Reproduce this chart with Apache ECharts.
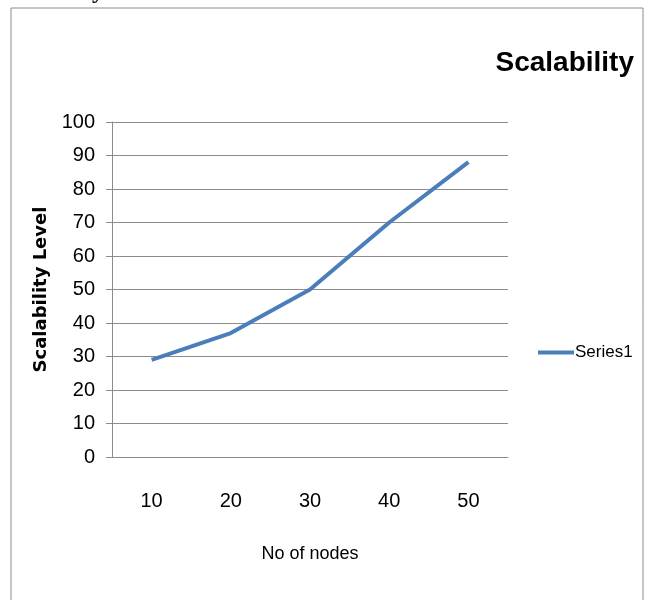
<!DOCTYPE html>
<html>
<head>
<meta charset="utf-8">
<script src="https://cdn.jsdelivr.net/npm/echarts@6/dist/echarts.min.js"></script>
<style>
html,body{margin:0;padding:0;background:#fff;}
#chart{width:650px;height:600px;}
</style>
</head>
<body>
<div id="chart"></div>
<script>
var categories = ['10', '20', '30', '40', '50'];
var series1 = [29, 37, 50, 70, 88];
var yTicks = [0, 10, 20, 30, 40, 50, 60, 70, 80, 90, 100];
var seriesName = 'Series1';
var titleText = 'Scalability';
var xName = 'No of nodes';
var yName = 'Scalability Level';

var narrow = "'Liberation Sans Narrow', 'Arial Narrow', 'Liberation Sans', sans-serif";
var chart = echarts.init(document.getElementById('chart'), null, {renderer: 'canvas'});
chart.setOption({
  backgroundColor: '#ffffff',
  animation: false,
  title: {
    text: titleText,
    right: 11,
    top: 44,
    textStyle: {fontFamily: narrow, fontWeight: 'bold', fontSize: 28, color: '#000'}
  },
  graphic: [
    {type: 'rect', shape: {x: 11, y: 8, width: 632, height: 600}, style: {fill: 'none', stroke: '#8c8c8c', lineWidth: 1}, silent: true},
    {type: 'text', left: -4, top: -20, style: {text: 'Scalability', font: 'bold 24px "Liberation Serif", serif', fill: '#000'}, silent: true}
  ],
  legend: {
    data: [seriesName],
    left: 533,
    top: 339,
    icon: 'rect',
    itemWidth: 36,
    itemHeight: 4,
    itemGap: 4,
    textStyle: {fontFamily: narrow, fontSize: 17, color: '#000', padding: [0, 0, 0, -4]}
  },
  grid: {left: 112, right: 142, top: 122, bottom: 143, containLabel: false},
  xAxis: {
    type: 'category',
    data: categories,
    boundaryGap: true,
    name: xName,
    nameLocation: 'middle',
    nameGap: 88,
    nameTextStyle: {fontFamily: narrow, fontSize: 18, color: '#000'},
    axisLine: {show: true, lineStyle: {color: '#8c8c8c', width: 1}},
    axisTick: {show: false},
    axisLabel: {margin: 34, fontFamily: narrow, fontSize: 20, color: '#000'},
    splitLine: {show: false}
  },
  yAxis: {
    type: 'value',
    min: yTicks[0],
    max: yTicks[yTicks.length - 1],
    interval: 10,
    name: yName,
    nameLocation: 'middle',
    nameGap: 50,
    nameRotate: 90,
    nameTextStyle: {fontFamily: "'DejaVu Sans', sans-serif", fontWeight: 'bold', fontSize: 18, color: '#000'},
    axisLine: {show: true, lineStyle: {color: '#8c8c8c', width: 1}},
    axisTick: {show: true, inside: false, length: 6, lineStyle: {color: '#8c8c8c'}},
    axisLabel: {margin: 17, fontFamily: narrow, fontSize: 20, color: '#000'},
    splitLine: {show: true, lineStyle: {color: '#8c8c8c', width: 1}}
  },
  series: [{
    name: seriesName,
    type: 'line',
    data: series1,
    showSymbol: false,
    symbol: 'none',
    lineStyle: {color: '#4a7ebb', width: 4},
    itemStyle: {color: '#4a7ebb'}
  }]
});
</script>
</body>
</html>
